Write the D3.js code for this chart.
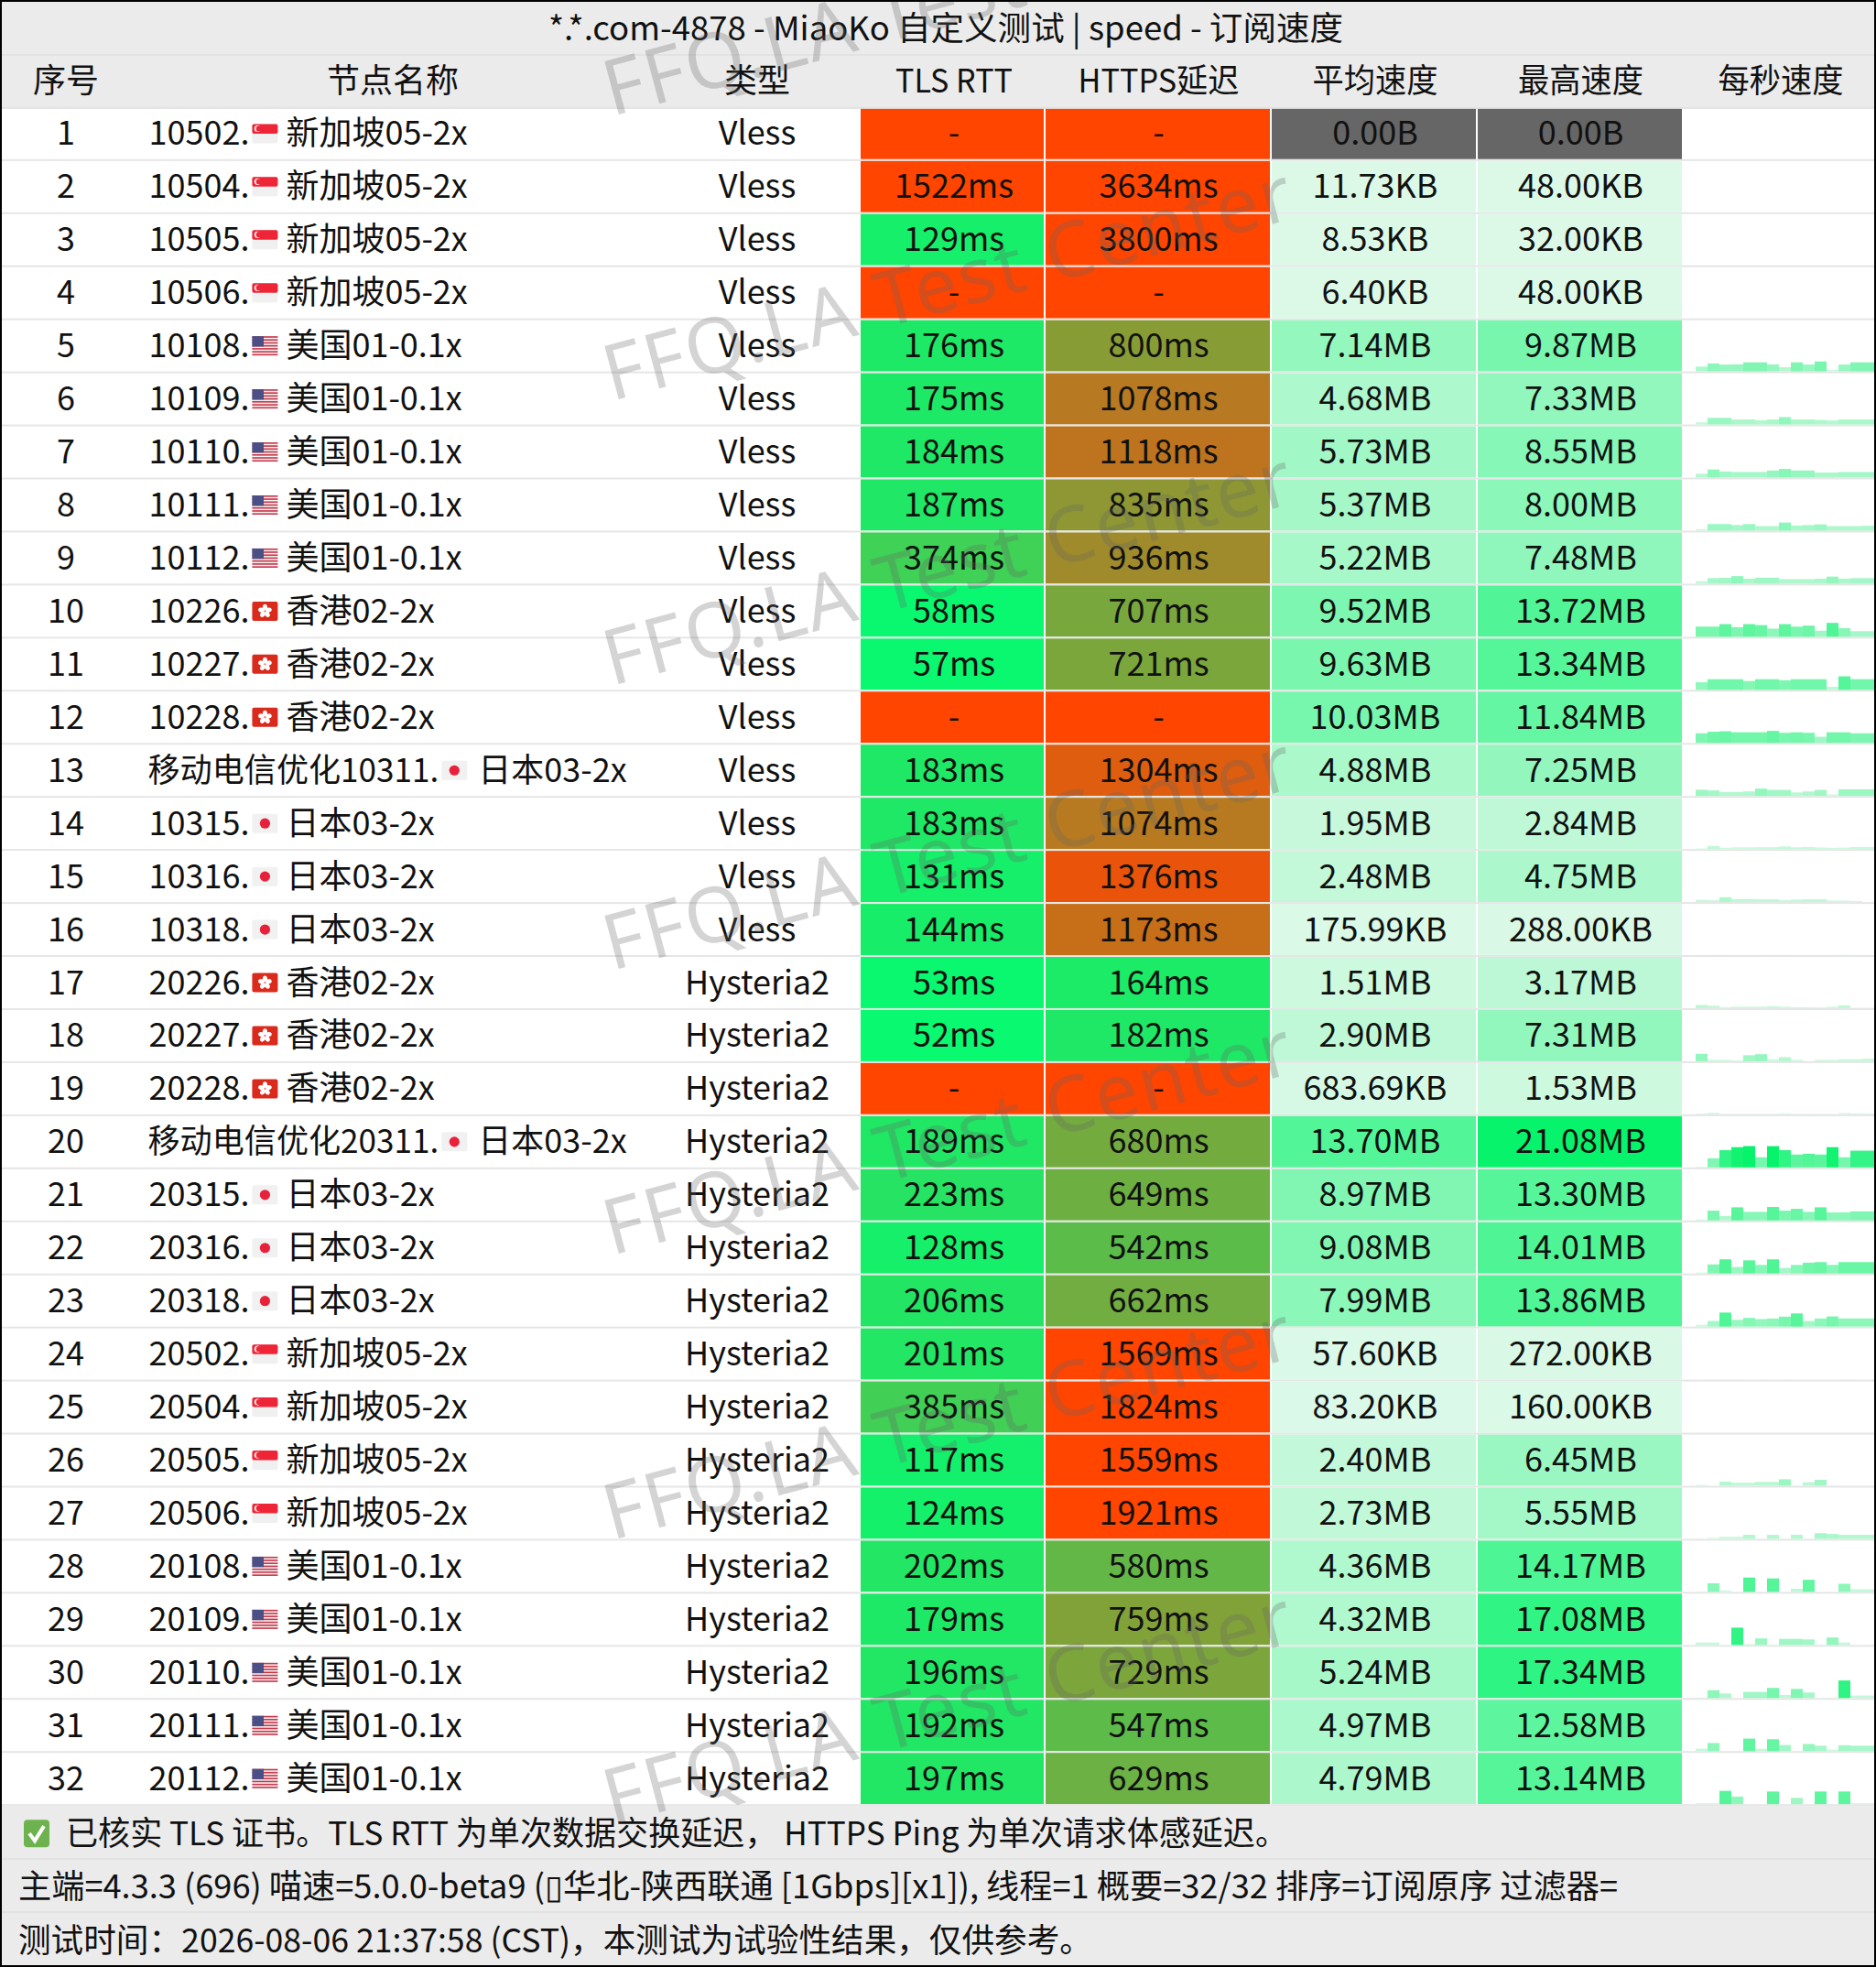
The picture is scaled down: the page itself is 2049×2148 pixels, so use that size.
<!DOCTYPE html>
<html lang="zh-CN"><head><meta charset="utf-8">
<script src="https://cdn.jsdelivr.net/npm/d3@7/dist/d3.min.js"></script>
<style>html,body{margin:0;padding:0;background:#000}svg{display:block}text{font-family:"Noto Sans CJK SC","Noto Sans",sans-serif;fill:#111}</style>
</head><body><svg id="c" width="2049" height="2148"></svg>
<script>
const titleText = "*.*.com-4878 - MiaoKo 自定义测试 | speed - 订阅速度";
const headers = ["序号","节点名称","类型","TLS RTT","HTTPS延迟","平均速度","最高速度","每秒速度"];
const nodeIds = ["10502.","10504.","10505.","10506.","10108.","10109.","10110.","10111.","10112.","10226.","10227.","10228.","移动电信优化10311.","10315.","10316.","10318.","20226.","20227.","20228.","移动电信优化20311.","20315.","20316.","20318.","20502.","20504.","20505.","20506.","20108.","20109.","20110.","20111.","20112."];
const nodeFlags = ["sg","sg","sg","sg","us","us","us","us","us","hk","hk","hk","jp","jp","jp","jp","hk","hk","hk","jp","jp","jp","jp","sg","sg","sg","sg","us","us","us","us","us"];
const nodeRegions = ["新加坡05-2x","新加坡05-2x","新加坡05-2x","新加坡05-2x","美国01-0.1x","美国01-0.1x","美国01-0.1x","美国01-0.1x","美国01-0.1x","香港02-2x","香港02-2x","香港02-2x","日本03-2x","日本03-2x","日本03-2x","日本03-2x","香港02-2x","香港02-2x","香港02-2x","日本03-2x","日本03-2x","日本03-2x","日本03-2x","新加坡05-2x","新加坡05-2x","新加坡05-2x","新加坡05-2x","美国01-0.1x","美国01-0.1x","美国01-0.1x","美国01-0.1x","美国01-0.1x"];
const nodeTypes = Array(16).fill("Vless").concat(Array(16).fill("Hysteria2"));
const tlsRtt = [null,1522,129,null,176,175,184,187,374,58,57,null,183,183,131,144,53,52,null,189,223,128,206,201,385,117,124,202,179,196,192,197];
const httpsDelay = [null,3634,3800,null,800,1078,1118,835,936,707,721,null,1304,1074,1376,1173,164,182,null,680,649,542,662,1569,1824,1559,1921,580,759,729,547,629];
const avgSpeed = ["0.00B","11.73KB","8.53KB","6.40KB","7.14MB","4.68MB","5.73MB","5.37MB","5.22MB","9.52MB","9.63MB","10.03MB","4.88MB","1.95MB","2.48MB","175.99KB","1.51MB","2.90MB","683.69KB","13.70MB","8.97MB","9.08MB","7.99MB","57.60KB","83.20KB","2.40MB","2.73MB","4.36MB","4.32MB","5.24MB","4.97MB","4.79MB"];
const maxSpeed = ["0.00B","48.00KB","32.00KB","48.00KB","9.87MB","7.33MB","8.55MB","8.00MB","7.48MB","13.72MB","13.34MB","11.84MB","7.25MB","2.84MB","4.75MB","288.00KB","3.17MB","7.31MB","1.53MB","21.08MB","13.30MB","14.01MB","13.86MB","272.00KB","160.00KB","6.45MB","5.55MB","14.17MB","17.08MB","17.34MB","12.58MB","13.14MB"];
const perSecond = [
[0,0,0,0,0,0,0,0,0,0,0,0,0,0,0,0],
[0,.02,.048,0,.016,.016,0,.016,.016,0,.016,.016,0,0,0,0],
[0,.016,.032,0,0,.016,0,.016,0,.016,0,.016,0,0,0,0],
[0,.048,0,0,.016,0,0,.016,0,0,.016,0,0,0,0,0],
[0,4.8,7.9,6.8,7,9,9,7,4.2,9,6.8,9.87,1.7,6.8,9,9],
[0,2.2,6.6,6.6,5,5,4.2,5,7.33,5,5,4.5,4,5,5,5],
[0,3.8,8,6,5.5,5.5,5.5,7,8.55,7,7,5,5,5.5,5.5,5.5],
[0,1.5,6.5,6.5,5.5,6.5,4.5,4.5,8,5,5.5,6.2,4.5,4.5,4.5,4.8],
[0,2.5,5.5,5.8,7.48,5,6,6,4.5,4.5,4.5,5,7,5,5.5,5.5],
[0,10,10,12.5,9.5,12.5,11.5,8,12.5,10,11,6,13.72,8.5,5.5,5.5],
[0,7.5,10.5,10.5,10.5,8.7,10.5,10.5,9.5,10.5,10.5,10.5,3,13.34,10.5,10.5],
[0,9.5,11,11.5,10.5,10.5,10.5,11.84,10,10.5,10,6,10.5,10.5,9.5,9.5],
[0,6.2,5.5,4,4,4.5,7.25,6,6,3.5,4.5,6,1.5,6.5,6.5,6.5],
[0,.6,2.84,1.2,1.6,1.6,1.8,1.8,2.5,1.7,2,1.5,1.2,1.4,2,2],
[0,2.2,1.8,4.75,3,3,2.8,2.8,2,2.5,2.8,2.8,1.5,1.5,1,0],
[0,.18,.2,.2,.17,.18,.18,.2,.2,.17,.17,.18,.17,.288,.17,.17],
[0,3.17,2.5,1,1.6,1.6,1.6,2,1.5,1,1,.8,1.5,2.8,.5,.5],
[0,7.31,1.5,1.5,1,6,7,2,4,1.5,0,1.5,1.5,2,2,2.5],
[0,.8,1.53,.5,.5,.5,.5,.5,1,.5,.6,.5,.5,1.2,.9,.8],
[0,.6,9,17,20,21.08,10,21,17,12.7,13.5,12.7,20,10,16.5,16.5],
[0,1,9.7,4.5,13,8.5,8.5,13.3,9.7,11.5,8.5,13,8,8,9,9],
[0,1,9,14.01,6.5,13,8.5,14,5.5,8.5,10.7,11.3,8.5,11.3,11.3,11.3],
[0,1.8,5.5,13.86,6.7,8.6,7.4,8,9.8,13,5.5,8,10,8,8,8],
[0,.02,.272,.05,.05,.02,.05,.02,.05,.02,.05,.02,.02,.05,.05,.02],
[0,.05,.16,.08,.08,.08,.08,.1,.08,.08,.1,.08,.08,.08,.08,.08],
[0,.9,0,4,3,3,3.8,3.8,6.45,.5,3.5,5.9,.3,0,0,0],
[0,.3,1,2,2,4,.3,4,.4,4,.3,5.55,4.8,4,4,4],
[0,.5,8.5,1.5,0,14.17,0,13.3,0,3,12,0,0,8,2.5,2.5],
[0,2.4,2.4,0,17.08,1,6.5,.5,6,6,5.5,.5,7.4,2.4,0,0],
[0,.5,7.8,4.5,0,6,6,10,3,9,5.4,.3,.5,17.34,2.4,2.4],
[0,2.3,8,0,0,12.3,2.3,11.7,6,0,7,5.3,1.5,5.8,5.3,5.3],
[0,1,1,13.14,7.5,0,0,12.5,0,6.2,0,12.5,0,12.5,1,1]
];
const footerLines = ["已核实 TLS 证书。TLS RTT 为单次数据交换延迟，  HTTPS Ping 为单次请求体感延迟。","主端=4.3.3 (696) 喵速=5.0.0-beta9 (\u25AF华北-陕西联通 [1Gbps][x1]), 线程=1 概要=32/32 排序=订阅原序 过滤器=","测试时间：2026-08-06 21:37:58 (CST)，本测试为试验性结果，仅供参考。"];
const watermarkText = "FFQ.LA Test Center";
const watermarkRows = [0,1,2,3,4,5,6];

const W=2049,H=2148,F=2,rowH=(H-2*F)/37,FS=36;
const cols=[[2,143],[143,715],[715,938],[940,1140],[1142,1387],[1389,1612],[1614,1837],[1839,2047]];
const hdrCx=[72,429,827,1042,1265.5,1502,1726.5,1945];
const tableTop=F+2*rowH;
const y=d3.scaleBand().domain(d3.range(nodeIds.length)).range([tableTop,tableTop+32*rowH]);
const delayColor=d3.scaleLinear().domain([0,1500]).range(["#00ff74","#ff4500"]).clamp(true);
const toMB=s=>{const v=parseFloat(s);return s.endsWith("MB")?v:s.endsWith("KB")?v/1024:v/1048576;};
const speedScale=d3.scaleLinear().domain([0,21]).range(["#dcf9e8","#08f36c"]).clamp(true);
const speedColor=v=>v===0?"#666666":speedScale(v);
const barH=d3.scaleLinear().domain([0,21.08]).range([0,23.3]);
const barX=d3.scaleBand().domain(d3.range(16)).range([cols[7][0],cols[7][1]]);

const svg=d3.select("#c");
const root=svg.append("g");
svg.append("clipPath").attr("id","fr").append("rect").attr("x",F).attr("y",F).attr("width",W-2*F).attr("height",H-2*F);
root.attr("clip-path","url(#fr)");
root.append("rect").attr("x",0).attr("y",0).attr("width",W).attr("height",H).attr("fill","#fff");
root.append("rect").attr("x",0).attr("y",0).attr("width",W).attr("height",tableTop).attr("fill","#ebebeb");
const footTop=tableTop+32*rowH;
root.append("rect").attr("x",0).attr("y",footTop).attr("width",W).attr("height",H-footTop).attr("fill","#ebebeb");

const T=(sel,x,yy,t,anchor="middle")=>sel.append("text").attr("x",x).attr("y",yy).attr("text-anchor",anchor).attr("font-size",FS).text(t);
const fit=(s,len)=>s.attr("textLength",len).attr("lengthAdjust","spacingAndGlyphs");
fit(T(root,1033,F+41.5,titleText),868);
const headerFit=[null,null,null,128,176,137,137,137];
headers.forEach((h,i)=>{const t=T(root,hdrCx[i],F+rowH+41.5,h); if(headerFit[i]) fit(t,headerFit[i]);});

const rows=root.selectAll("g.r").data(d3.range(32)).join("g").attr("class","r").attr("transform",i=>`translate(0,${y(i)})`);
rows.each(function(i){
  const g=d3.select(this),h=rowH-2;
  const cell=(c,fill)=>g.append("rect").attr("x",cols[c][0]).attr("y",0).attr("width",cols[c][1]-cols[c][0]).attr("height",h).attr("fill",fill);
  cell(3,delayColor(tlsRtt[i]===null?9999:tlsRtt[i]));
  cell(4,delayColor(httpsDelay[i]===null?9999:httpsDelay[i]));
  cell(5,speedColor(toMB(avgSpeed[i])));
  cell(6,speedColor(toMB(maxSpeed[i])));
  g.append("rect").attr("x",F).attr("y",h).attr("width",W-2*F).attr("height",2).attr("fill","#e6e6e6");
  g.selectAll("rect.b").data(perSecond[i]).join("rect").attr("class","b")
   .attr("x",(d,k)=>barX(k)).attr("width",barX.bandwidth())
   .attr("y",d=>h-barH(d)).attr("height",d=>barH(d)).attr("fill",d=>speedScale(d));
  const by=40.5, long=nodeIds[i].length>6;
  T(g,hdrCx[0],by,String(i+1));
  const p=T(g,161.5+(long?0:1),by,nodeIds[i],"start");
  let w=p.node().getComputedTextLength();
  if(long){w=w*0.975;fit(p,w);}
  const fx=(long?161.5:162.5)+w+3;
  drawFlag(g.append("g").attr("transform",`translate(${fx},${28-10.5})`),nodeFlags[i]);
  T(g,fx+37+(long?3:0),by,nodeRegions[i],"start");
  T(g,hdrCx[2],by,nodeTypes[i]);
  T(g,hdrCx[3],by,tlsRtt[i]===null?"-":tlsRtt[i]+"ms");
  T(g,hdrCx[4],by,httpsDelay[i]===null?"-":httpsDelay[i]+"ms");
  T(g,hdrCx[5],by,avgSpeed[i]);
  T(g,hdrCx[6],by,maxSpeed[i]);
});

function drawFlag(g,k){
  const w=28,h=21;
  if(k==="sg"){
    g.append("rect").attr("width",w).attr("height",h).attr("rx",2).attr("fill","#f0f0f0");
    g.append("rect").attr("width",w).attr("height",h/2).attr("rx",2).attr("fill","#ee2536");
    g.append("circle").attr("cx",6).attr("cy",5).attr("r",3.6).attr("fill","#fff");
    g.append("circle").attr("cx",7.4).attr("cy",5).attr("r",3.2).attr("fill","#ee2536");
  } else if(k==="jp"){
    g.append("rect").attr("width",w).attr("height",h).attr("rx",2).attr("fill","#f1f1f1");
    g.append("circle").attr("cx",w/2).attr("cy",h/2).attr("r",5.6).attr("fill","#e8213a");
  } else if(k==="hk"){
    g.append("rect").attr("width",w).attr("height",h).attr("rx",2).attr("fill","#d92a1c");
    d3.range(5).forEach(a=>g.append("ellipse").attr("cx",w/2).attr("cy",h/2-3.8).attr("rx",2.6).attr("ry",3.8)
      .attr("fill","#fff").attr("transform",`rotate(${a*72} ${w/2} ${h/2})`));
    g.append("circle").attr("cx",w/2).attr("cy",h/2).attr("r",1.2).attr("fill","#e88");
  } else {
    g.append("rect").attr("width",w).attr("height",h).attr("fill","#f2f2f2");
    d3.range(0,13,2).forEach(s=>g.append("rect").attr("y",s*h/13).attr("width",w).attr("height",h/13).attr("fill","#c8374a"));
    g.append("rect").attr("width",w*.45).attr("height",h*7/13).attr("fill","#4a4f86");
  }
}

[F+rowH-1,F+2*rowH-1,footTop+rowH-1,footTop+2*rowH-1].forEach(v=>
  root.append("rect").attr("x",F).attr("y",v).attr("width",W-2*F).attr("height",2).attr("fill","#e2e2e2"));

const cb=root.append("g").attr("transform",`translate(26,${footTop+15})`);
cb.append("rect").attr("width",28).attr("height",30).attr("rx",4).attr("fill","#6db24f");
cb.append("path").attr("d","M6 15 L12 23 L22 7").attr("fill","none").attr("stroke","#fff").attr("stroke-width",4);
fit(T(root,72,footTop+43,footerLines[0],"start"),1334);
fit(T(root,20,footTop+rowH+43,footerLines[1],"start"),1747);
fit(T(root,20,footTop+2*rowH+44,footerLines[2],"start"),1173);

const wm=d3.scaleLinear().domain([0,1]).range([127,438]);
watermarkRows.forEach(k=>root.append("text").attr("transform",`translate(668,${wm(k)}) rotate(-15)`)
  .attr("font-size",84).attr("textLength",775).attr("lengthAdjust","spacing")
  .style("fill","rgba(100,100,100,.28)").style("font-family","'Noto Sans',sans-serif").text(watermarkText));
</script></body></html>
